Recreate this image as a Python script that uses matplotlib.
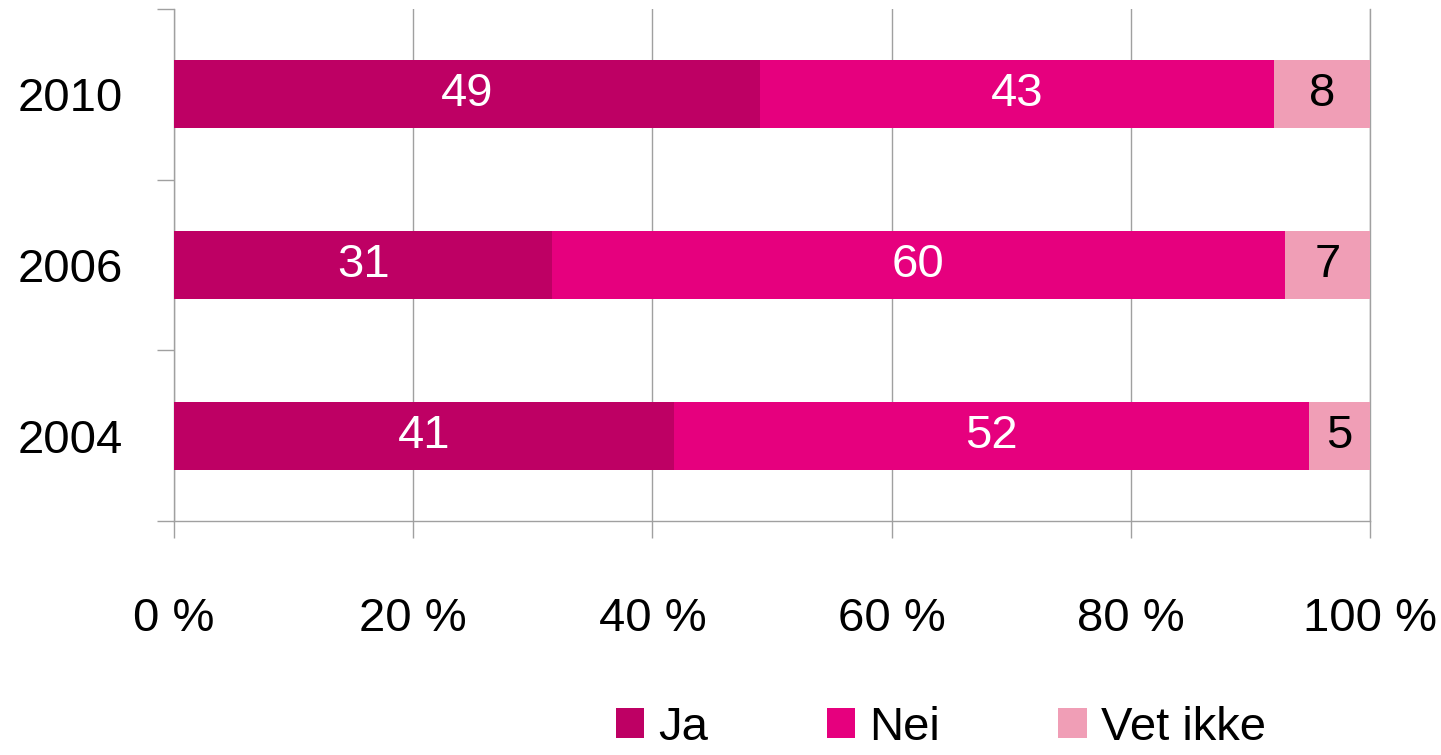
import matplotlib
matplotlib.use("Agg")
import matplotlib.pyplot as plt
import numpy as np

plt.rcParams['font.family'] = ['Liberation Sans', 'DejaVu Sans']

years = ["2004", "2006", "2010"]
ja = [41, 31, 49]
nei = [52, 60, 43]
vet = [5, 7, 8]
series_names = ["Ja", "Nei", "Vet ikke"]
colors = ["#BE0064", "#E6007E", "#F09EB6"]
text_colors = ["white", "white", "black"]
xticklabels = ["0 %", "20 %", "40 %", "60 %", "80 %", "100 %"]

FS = 34

fig = plt.figure(figsize=(14.41, 7.55), dpi=100)
ax = fig.add_axes([174/1441, 1-521/755, (1370-174)/1441, (521-9)/755])

data = np.array([ja, nei, vet], dtype=float)
totals = data.sum(axis=0)
pct = data / totals * 100
y = np.arange(len(years))
left = np.zeros(len(years))
for i in range(3):
    ax.barh(y, pct[i], left=left, height=0.4, color=colors[i], label=series_names[i], zorder=3)
    for j in range(len(years)):
        ax.text(left[j] + pct[i][j] / 2, y[j], str(int(data[i][j])), ha='center', va='center',
                fontsize=FS, color=text_colors[i], zorder=4)
    left += pct[i]

ax.set_xlim(0, 100)
ax.set_ylim(-0.5, 2.5)
ax.set_xticks(np.arange(0, 101, 20))
ax.set_xticklabels(xticklabels, fontsize=FS)
ax.set_yticks(y)
ax.set_yticklabels(years, fontsize=FS)
ax.set_yticks(np.arange(-0.5, 2.6, 1), minor=True)
ax.tick_params(axis='y', which='major', length=0, pad=37)
ax.tick_params(axis='y', which='minor', length=12.5, color='#A0A0A0', width=1, direction='out')
ax.tick_params(axis='x', length=12.5, color='#A0A0A0', width=1, direction='out', pad=42)
ax.grid(axis='x', color='#A0A0A0', linewidth=1, zorder=1)
ax.axvline(100, color='#A0A0A0', linewidth=1, clip_on=False, zorder=1)
for s in ['top', 'right']:
    ax.spines[s].set_visible(False)
for s in ['left', 'bottom']:
    ax.spines[s].set_color('#A0A0A0')
    ax.spines[s].set_linewidth(1)

fig.legend(loc='center', bbox_to_anchor=(941/1441, 1-728/755), ncol=3, frameon=False,
           fontsize=FS, handlelength=0.61, handleheight=0.6, handletextpad=0.3,
           columnspacing=2.5, borderpad=0, borderaxespad=0)

fig.savefig("out.png", dpi=100)
